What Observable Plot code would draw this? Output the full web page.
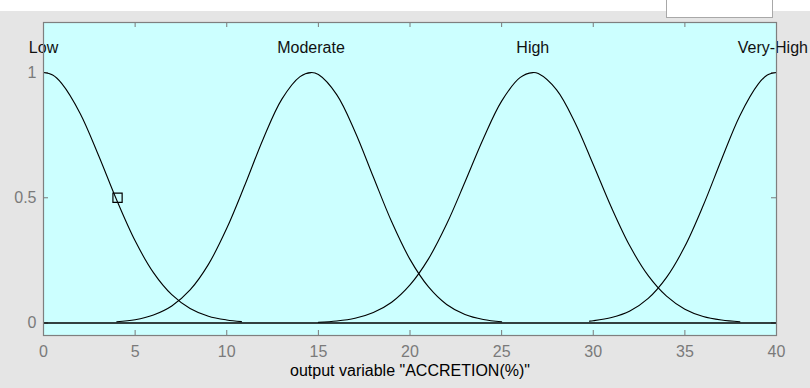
<!DOCTYPE html>
<html>
<head>
<meta charset="utf-8">
<script src="https://cdn.jsdelivr.net/npm/d3@7"></script>
<script src="https://cdn.jsdelivr.net/npm/@observablehq/plot@0.6"></script>
<style>
  body { margin: 0; background: #ffffff; }
  #wrap { position: relative; width: 810px; height: 388px; background: #e5e5e5; overflow: hidden; }
  #strip { position: absolute; left: 0; top: 0; width: 810px; height: 11px; background: #ffffff; }
  #box { position: absolute; left: 666px; top: -2px; width: 105px; height: 18px; background: #ffffff; border: 1px solid #a8a8a8; }
  #chart { position: absolute; left: 0; top: 0; }
</style>
</head>
<body>
<div id="wrap"><div id="strip"></div><div id="box"></div><div id="chart"></div></div>
<script>
// Membership function names and where their labels sit
const mfNames = ["Low", "Moderate", "High", "Very-High"];
const labelX = [0, 14.6, 26.7, 39.8];

// Curve samples
const lowX = [0, 0.5, 1, 2, 3, 4, 5, 6, 7, 8, 9, 10, 10.8];
const lowY = [1, 0.99, 0.956, 0.837, 0.670, 0.490, 0.328, 0.201, 0.113, 0.058, 0.027, 0.012, 0.0055];

const modX = [4, 5, 6, 7, 8, 9, 10, 11, 12, 13, 14, 14.6, 15, 16, 17, 18, 19, 20, 21, 22, 23, 24, 25];
const modY = [0.005, 0.013, 0.032, 0.068, 0.132, 0.234, 0.378, 0.553, 0.737, 0.893, 0.984, 1, 0.992, 0.912, 0.764, 0.583, 0.404, 0.254, 0.145, 0.074, 0.034, 0.014, 0.005];

const highX = [15, 16, 17, 18, 19, 20, 21, 22, 23, 24, 25, 26, 26.7, 27, 28, 29, 30, 31, 32, 33, 34, 35, 36, 37, 38];
const highY = [0.003, 0.008, 0.019, 0.042, 0.083, 0.152, 0.255, 0.395, 0.563, 0.736, 0.886, 0.980, 1, 0.996, 0.931, 0.801, 0.633, 0.460, 0.307, 0.189, 0.107, 0.055, 0.026, 0.012, 0.005];

const vhX = [29.8, 30, 31, 32, 33, 34, 35, 36, 37, 38, 39, 39.5, 40];
const vhY = [0.0075, 0.009, 0.022, 0.048, 0.098, 0.182, 0.306, 0.469, 0.653, 0.828, 0.954, 0.99, 1];

// Selected point marker
const markerX = [4.04];
const markerY = [0.5];

// Axis ticks
const xTicks = [0, 5, 10, 15, 20, 25, 30, 35, 40];
const xInnerTicks = [5, 10, 15, 20, 25, 30, 35];
const yTicks = [0, 0.5, 1];
const xLabel = 'output variable "ACCRETION(%)"';

const series = [[lowX, lowY], [modX, modY], [highX, highY], [vhX, vhY]];
const rows = [];
series.forEach(([xs, ys], k) => xs.forEach((x, i) => rows.push({name: mfNames[k], x, y: ys[i]})));
const labels = mfNames.map((n, i) => ({name: n, x: labelX[i]}));
const marker = markerX.map((x, i) => ({x, y: markerY[i]}));

const W = 810, H = 388, mL = 43, mR = 34, mT = 22, mB = 53;
const pW = W - mL - mR, pH = H - mT - mB;
const grey = "#7a7a7a";
const font = "'Liberation Sans', Arial, sans-serif";

const chart = Plot.plot({
  width: W, height: H,
  marginLeft: mL, marginRight: mR, marginTop: mT, marginBottom: mB,
  style: {background: "transparent", fontFamily: font, fontSize: "16px"},
  x: {domain: [0, 40]},
  y: {domain: [-0.05, 1.2]},
  marks: [
    Plot.frame({fill: "#ccffff", stroke: "none"}),
    Plot.ruleX(xInnerTicks, {insetTop: pH - 5, stroke: grey}),
    Plot.ruleX(xInnerTicks, {insetBottom: pH - 5, stroke: grey}),
    Plot.ruleY(yTicks, {insetRight: pW - 5, stroke: grey}),
    Plot.ruleY(yTicks, {insetLeft: pW - 5, stroke: grey}),
    Plot.ruleY([0], {stroke: "#000", strokeWidth: 1.4}),
    Plot.line(rows, {x: "x", y: "y", z: "name", curve: "catmull-rom", stroke: "#000", strokeWidth: 1.1}),
    Plot.dot(marker, {x: "x", y: "y", symbol: "square", r: 5.2, stroke: "#000", fill: "none", strokeWidth: 1.2}),
    Plot.text(labels, {x: "x", text: "name", frameAnchor: "top", dy: 19, fill: "#111", fontSize: 16}),
    Plot.axisX({ticks: xTicks, tickSize: 0, tickPadding: 10, color: grey, fontSize: 16, label: null, tickFormat: d => String(d)}),
    Plot.axisY({ticks: yTicks, tickSize: 0, tickPadding: 7, color: grey, fontSize: 16, label: null, tickFormat: d => String(d)}),
    Plot.text([xLabel], {text: d => d, frameAnchor: "bottom", dy: 40, fill: "#000", fontSize: 16}),
    Plot.frame({stroke: "#7f7f7f", strokeWidth: 1.2})
  ]
});
document.getElementById("chart").appendChild(chart);
</script>
</body>
</html>
